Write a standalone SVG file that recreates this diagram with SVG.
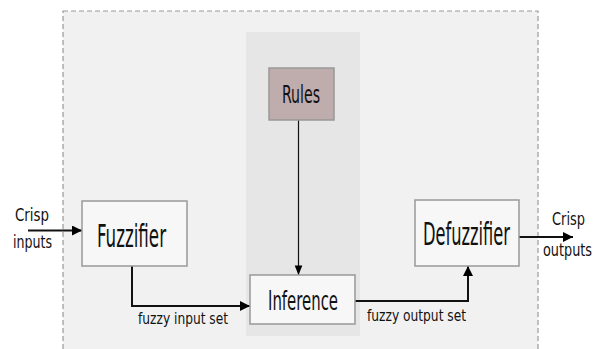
<svg xmlns="http://www.w3.org/2000/svg" width="603" height="349" viewBox="0 0 603 349">
<defs>
<style>
.lbl{font-family:"DejaVu Sans Condensed","DejaVu Sans",sans-serif;fill:#111;}
.box{fill:#f7f7f7;stroke:#999;stroke-width:1.5;}
.conn{fill:none;stroke:#111;stroke-width:2;}
</style>
<marker id="ah" viewBox="0 0 10 10" refX="10" refY="5" markerWidth="5" markerHeight="5" orient="auto" markerUnits="strokeWidth">
<path d="M0,0 L10,5 L0,10 z" fill="#000"/>
</marker>
<marker id="ahs" viewBox="0 0 10 10" refX="10" refY="5" markerWidth="8" markerHeight="9" orient="auto" markerUnits="strokeWidth">
<path d="M0,1 L10,5 L0,9 z" fill="#000"/>
</marker>
</defs>
<rect width="603" height="349" fill="#fff"/>
<rect id="system" x="63" y="11" width="475" height="350" fill="#f1f1f1" stroke="#9a9a9a" stroke-width="1.2" stroke-dasharray="5,3"/>
<rect id="inference-zone" x="246" y="32" width="114" height="304" fill="#e6e6e6"/>
<g id="connectors">
<path class="conn" d="M28,230.5 L82,230.5" marker-end="url(#ah)"/>
<path class="conn" d="M132,266 L132,306 L250,306" marker-end="url(#ah)"/>
<path d="M298.5,120 L298.5,275" fill="none" stroke="#111" stroke-width="1.2" marker-end="url(#ahs)"/>
<path class="conn" d="M355,301 L468,301 L468,266" marker-end="url(#ah)"/>
<path class="conn" d="M519,237 L573,237" stroke="#555" marker-end="url(#ah)"/>
</g>
<g id="fuzzifier">
<rect class="box" x="82" y="201" width="105" height="65"/>
<text class="lbl" transform="translate(97,246.5) scale(0.6,1)" font-size="32" textLength="115" lengthAdjust="spacingAndGlyphs">Fuzzifier</text>
</g>
<g id="rules">
<rect x="269" y="68" width="65" height="52" fill="#bfacac" stroke="#999" stroke-width="1.5"/>
<text class="lbl" transform="translate(282,103) scale(0.62,1)" font-size="25" textLength="61.3" lengthAdjust="spacingAndGlyphs">Rules</text>
</g>
<g id="inference">
<rect class="box" x="250" y="275" width="105" height="49"/>
<text class="lbl" transform="translate(268,310) scale(0.64,1)" font-size="26" textLength="109.4" lengthAdjust="spacingAndGlyphs">Inference</text>
</g>
<g id="defuzzifier">
<rect class="box" x="415" y="200" width="104" height="66"/>
<text class="lbl" transform="translate(423,245) scale(0.565,1)" font-size="32" textLength="154" lengthAdjust="spacingAndGlyphs">Defuzzifier</text>
</g>
<g id="labels">
<text class="lbl" transform="translate(15,221) scale(0.83,1)" font-size="18" textLength="41" lengthAdjust="spacingAndGlyphs">Crisp</text>
<text class="lbl" transform="translate(13,248) scale(0.78,1)" font-size="18" textLength="50" lengthAdjust="spacingAndGlyphs">inputs</text>
<text class="lbl" transform="translate(552,225) scale(0.8,1)" font-size="18" textLength="41.25" lengthAdjust="spacingAndGlyphs">Crisp</text>
<text class="lbl" transform="translate(543,256) scale(0.79,1)" font-size="18" textLength="62" lengthAdjust="spacingAndGlyphs">outputs</text>
<text class="lbl" transform="translate(138,324) scale(0.79,1)" font-size="16" textLength="114" lengthAdjust="spacingAndGlyphs">fuzzy input set</text>
<text class="lbl" transform="translate(367,321) scale(0.85,1)" font-size="16" textLength="116.5" lengthAdjust="spacingAndGlyphs">fuzzy output set</text>
</g>
</svg>
